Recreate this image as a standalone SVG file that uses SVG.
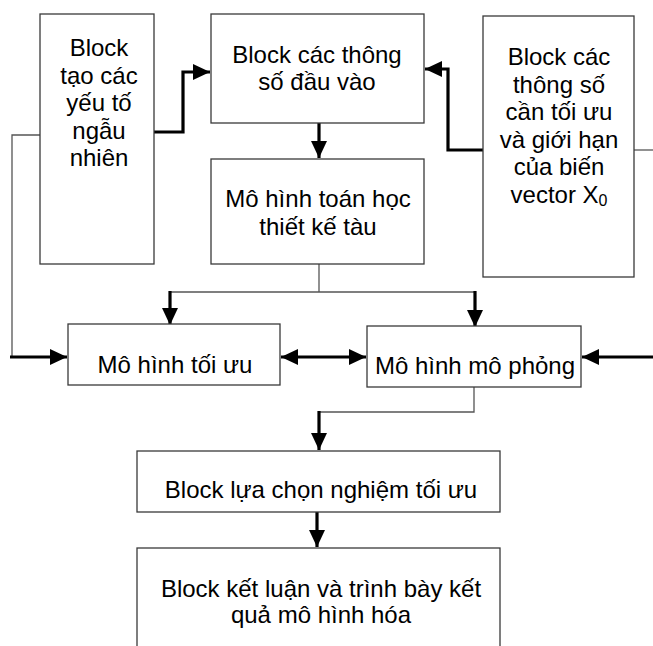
<svg xmlns="http://www.w3.org/2000/svg" width="653" height="646" viewBox="0 0 653 646">
<defs>
<style>
.box{fill:#fff;stroke:#3a3a3a;stroke-width:1.3}
.t{font-family:"Liberation Sans",Arial,sans-serif;font-size:24px;fill:#000;text-anchor:middle}
.thin{fill:none;stroke:#555;stroke-width:1.3}
.thick{fill:none;stroke:#000;stroke-width:3.2}
</style>
<marker id="ah" markerUnits="userSpaceOnUse" markerWidth="17" markerHeight="16" refX="17" refY="8" orient="auto">
<path d="M0,0 L17,8 L0,16 z" fill="#000"/>
</marker>
<marker id="as" markerUnits="userSpaceOnUse" markerWidth="17" markerHeight="16" refX="0" refY="8" orient="auto">
<path d="M17,0 L0,8 L17,16 z" fill="#000"/>
</marker>
</defs>
<rect width="653" height="646" fill="#fff"/>
<g id="connectors">
<path class="thick" d="M154,132 H183 V72 H210" marker-end="url(#ah)"/>
<path class="thick" d="M483,150 H448 V69 H425" marker-end="url(#ah)"/>
<path class="thick" d="M319,123 V158" marker-end="url(#ah)"/>
<path class="thin" d="M319,264 V292"/>
<path class="thin" d="M170,292 H475"/>
<path class="thick" d="M170,291 V325" marker-end="url(#ah)"/>
<path class="thick" d="M475,291 V327" marker-end="url(#ah)"/>
<path class="thin" d="M40,135 H12 V357"/>
<path class="thick" d="M10,357 H67" marker-end="url(#ah)"/>
<path class="thick" d="M281,357 H366" marker-start="url(#as)" marker-end="url(#ah)"/>
<path class="thin" d="M634,150 H653"/>
<path class="thick" d="M653,357 H582" marker-end="url(#ah)"/>
<path class="thin" d="M474,387 V412 H319"/>
<path class="thick" d="M319,411 V450" marker-end="url(#ah)"/>
<path class="thick" d="M317,512 V547" marker-end="url(#ah)"/>
</g>
<g id="n1">
<rect class="box" x="40" y="14" width="114" height="250"/>
<text class="t" x="99" y="56">Block</text>
<text class="t" x="99" y="83.5">tạo các</text>
<text class="t" x="99" y="111">yếu tố</text>
<text class="t" x="99" y="138.5">ngẫu</text>
<text class="t" x="99" y="166">nhiên</text>
</g>
<g id="n2">
<rect class="box" x="211" y="14" width="213" height="109"/>
<text class="t" x="317" y="63">Block các thông</text>
<text class="t" x="317" y="90">số đầu vào</text>
</g>
<g id="n3">
<rect class="box" x="211" y="159" width="213" height="105"/>
<text class="t" x="318" y="207">Mô hình toán học</text>
<text class="t" x="318" y="235">thiết kế tàu</text>
</g>
<g id="n4">
<rect class="box" x="483" y="16" width="151" height="261"/>
<text class="t" x="559" y="65">Block các</text>
<text class="t" x="559" y="92.5">thông số</text>
<text class="t" x="559" y="120">cần tối ưu</text>
<text class="t" x="559" y="147.5">và giới hạn</text>
<text class="t" x="559" y="175">của biến</text>
<text class="t" x="559" y="202.5">vector X<tspan font-size="16" dy="3">0</tspan></text>
</g>
<g id="n5">
<rect class="box" x="68" y="324" width="212" height="61"/>
<text class="t" x="175" y="373">Mô hình tối ưu</text>
</g>
<g id="n6">
<rect class="box" x="367" y="326" width="214" height="61"/>
<text class="t" x="475" y="374">Mô hình mô phỏng</text>
</g>
<g id="n7">
<rect class="box" x="137" y="451" width="363" height="61"/>
<text class="t" x="321" y="498">Block lựa chọn nghiệm tối ưu</text>
</g>
<g id="n8">
<rect class="box" x="137" y="548" width="363" height="120"/>
<text class="t" x="321" y="597">Block kết luận và trình bày kết</text>
<text class="t" x="321" y="623">quả mô hình hóa</text>
</g>
</svg>
